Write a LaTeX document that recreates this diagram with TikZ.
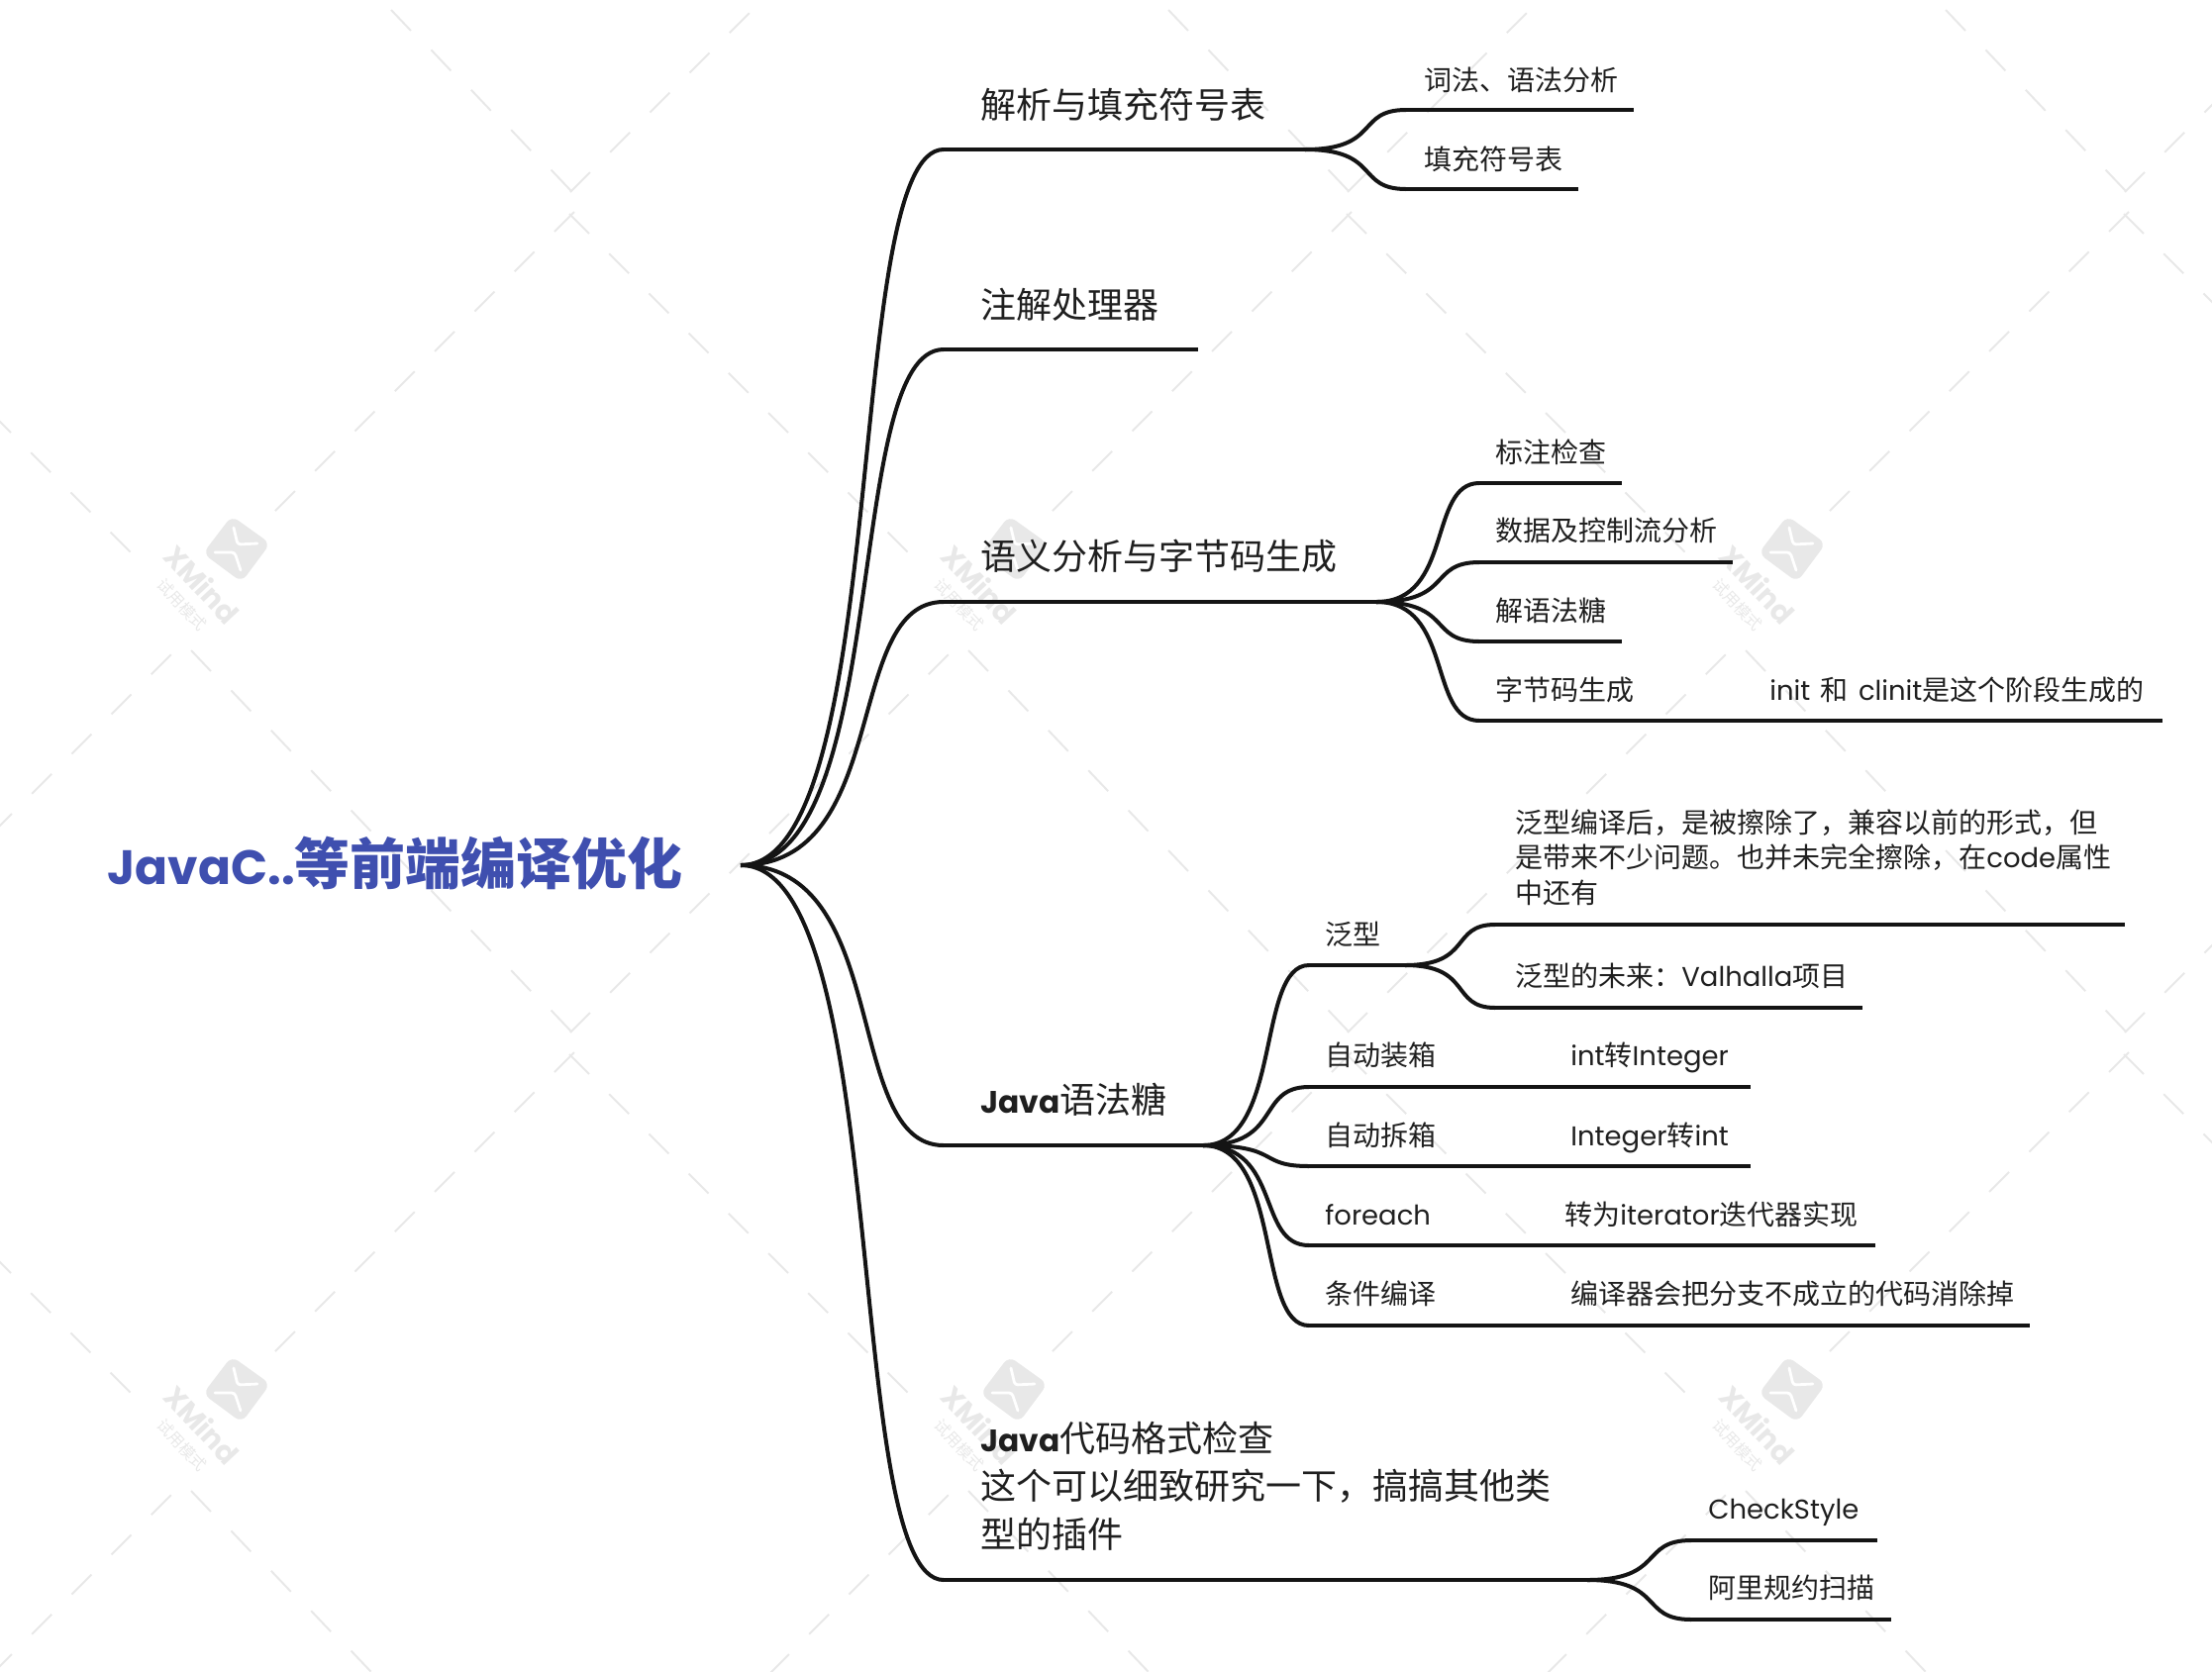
\documentclass[tikz,border=0pt]{standalone}
\usepackage{fontspec}
\usetikzlibrary{calc}
\setmainfont{Noto Sans CJK SC}
\newfontfamily\ltnfont[Scale=0.98]{Poppins}
\newfontfamily\ltnheavy[Scale=0.87]{Poppins}
\newfontfamily\wmfont{Poppins}
\newcommand{\ltn}[1]{{\ltnfont #1}}
\newcommand{\ltb}[1]{{\ltnheavy\bfseries #1}}
\definecolor{wmgray}{HTML}{E8E8E8}
\definecolor{inkline}{HTML}{141414}
\definecolor{inktext}{HTML}{1F1F1F}
\definecolor{rootblue}{HTML}{3F4FAF}
\tikzset{
  branch/.style={draw=inkline,line width=2pt,line cap=butt},
  rootlabel/.style={anchor=base west,inner sep=0pt,text=rootblue,font=\fontsize{28}{34}\selectfont\bfseries},
  mainlabel/.style={anchor=base west,inner sep=0pt,text=inktext,font=\fontsize{18}{24.2}\selectfont},
  mainblock/.style={anchor=west,align=left,inner sep=0pt,text=inktext,font=\fontsize{18}{24.2}\selectfont},
  sublabel/.style={anchor=base west,inner sep=0pt,text=inktext,font=\fontsize{14}{17.8}\selectfont},
  subblock/.style={anchor=west,align=left,inner sep=0pt,text=inktext,font=\fontsize{14}{17.8}\selectfont},
  wmdash/.style={draw=wmgray,line width=1pt},
}
\newcommand{\link}[2]{\draw[branch] let \p1=(#1),\p2=(#2) in (\p1) .. controls ({\x1+0.75*(\x2-\x1)},\y1) and ({\x1+0.5*(\x2-\x1)},\y2) .. (\p2);}
\begin{document}
\begin{tikzpicture}[x=0.5pt,y=-0.5pt]
\useasboundingbox (0,0) rectangle (2234,1688);
% watermark
\begin{scope}
\clip (0,0) rectangle (2234,1688);
\foreach \i in {-1,0,1,2,3}{
  \foreach \j in {-1,0,1,2}{
    \pgfmathsetmacro{\ox}{785*\i}
    \pgfmathsetmacro{\oy}{849*\j}
    \foreach \k in {0,...,7}{
      \draw[wmdash] ({\ox+580-40.3*\k},{\oy+214+40.3*\k}) -- ++(-20,20);}
    \foreach \k in {0,...,8}{
      \draw[wmdash] ({\ox+575+40.2*\k},{\oy+216+40.2*\k}) -- ++(20,20);}
    \foreach \k in {0,...,9}{
      \draw[wmdash] ({\ox+193+40.4*\k},{\oy-192+40.4*\k}) -- ++(20,21);}
    \foreach \k in {0,...,9}{
      \draw[wmdash] ({\ox+576+40.2*\k},{\oy+194-40.2*\k}) -- ++(20,-20);}
  }
}
\foreach \lx/\ly/\tag in {238/554/a,1023/554/b,1809/554/c,238/1403/d,1023/1403/e,1809/1403/f}{
  \begin{scope}[shift={(\lx,\ly)}]
    \fill[wmgray,rounded corners=4pt] (-4,-33) -- (35,-5) -- (6,34) -- (-33,5) -- cycle;
    \draw[white,line width=1.4pt,line cap=round,rounded corners=1.5pt] (-2,-21) -- (2,-4) -- (22,-5);
    \draw[white,line width=1.4pt,line cap=round,rounded corners=1.5pt] (-21,4) -- (-1,4) -- (5,22);
    \node[rotate=-47,text=wmgray,inner sep=0pt,font=\wmfont\bfseries\fontsize{14.5}{15}\selectfont] (wmname\tag) at (-34,36) {XMind};
    \node[rotate=-47,text=wmgray,inner sep=0pt,font=\fontsize{8}{8}\selectfont] (wmmode\tag) at (-54,57) {试用模式};
  \end{scope}
}
\end{scope}
% junction points
\coordinate (root) at (748,874);
\coordinate (a0) at (953,151);  \coordinate (a1) at (1318,151);
\coordinate (a1s) at (1420,111); \coordinate (a1e) at (1650,111);
\coordinate (a2s) at (1420,191); \coordinate (a2e) at (1594,191);
\coordinate (b0) at (953,353);  \coordinate (b1) at (1210,353);
\coordinate (c0) at (953,608);  \coordinate (c1) at (1390,608);
\coordinate (c1s) at (1494,488); \coordinate (c1e) at (1638,488);
\coordinate (c2s) at (1494,568); \coordinate (c2e) at (1750,568);
\coordinate (c3s) at (1494,648); \coordinate (c3e) at (1638,648);
\coordinate (c4s) at (1494,728); \coordinate (c4e) at (2184,728);
\coordinate (d0) at (953,1157); \coordinate (d1) at (1215,1157);
\coordinate (d1s) at (1322,975); \coordinate (d1f) at (1419,975);
\coordinate (d11s) at (1510,934); \coordinate (d11e) at (2146,934);
\coordinate (d12s) at (1510,1018); \coordinate (d12e) at (1881,1018);
\coordinate (d2s) at (1322,1098); \coordinate (d2e) at (1768,1098);
\coordinate (d3s) at (1322,1178); \coordinate (d3e) at (1768,1178);
\coordinate (d4s) at (1322,1258); \coordinate (d4e) at (1894,1258);
\coordinate (d5s) at (1322,1339); \coordinate (d5e) at (2050,1339);
\coordinate (e0) at (953,1596); \coordinate (e1) at (1603,1596);
\coordinate (e1s) at (1708,1556); \coordinate (e1e) at (1896,1556);
\coordinate (e2s) at (1708,1636); \coordinate (e2e) at (1910,1636);
% connectors
\link{root}{a0} \link{root}{b0} \link{root}{c0} \link{root}{d0} \link{root}{e0}
\draw[branch] (a0) -- (a1); \link{a1}{a1s} \link{a1}{a2s}
\draw[branch] (a1s) -- (a1e); \draw[branch] (a2s) -- (a2e);
\draw[branch] (b0) -- (b1);
\draw[branch] (c0) -- (c1);
\link{c1}{c1s} \draw[branch] (c1s) -- (c1e);
\link{c1}{c2s} \draw[branch] (c2s) -- (c2e);
\link{c1}{c3s} \draw[branch] (c3s) -- (c3e);
\link{c1}{c4s} \draw[branch] (c4s) -- (c4e);
\draw[branch] (d0) -- (d1);
\link{d1}{d1s} \draw[branch] (d1s) -- (d1f);
\link{d1f}{d11s} \link{d1f}{d12s}
\draw[branch] (d11s) -- (d11e); \draw[branch] (d12s) -- (d12e);
\link{d1}{d2s} \draw[branch] (d2s) -- (d2e);
\link{d1}{d3s} \draw[branch] (d3s) -- (d3e);
\link{d1}{d4s} \draw[branch] (d4s) -- (d4e);
\link{d1}{d5s} \draw[branch] (d5s) -- (d5e);
\draw[branch] (e0) -- (e1); \link{e1}{e1s} \link{e1}{e2s}
\draw[branch] (e1s) -- (e1e); \draw[branch] (e2s) -- (e2e);
% labels
\node[rootlabel] (rootn) at (108,893) {\ltb{JavaC..}等前端编译优化};
\node[mainlabel] (na) at (990,119) {解析与填充符号表};
\node[mainlabel] (nb) at (990,321) {注解处理器};
\node[mainlabel] (nc) at (990,575) {语义分析与字节码生成};
\node[mainlabel] (nd) at (990,1124) {\ltb{Java}语法糖};
\node[mainblock] (ne) at (990,1501) {\ltb{Java}代码格式检查\\这个可以细致研究一下，搞搞其他类\\型的插件};
\node[sublabel] (na1) at (1438,91) {词法、语法分析};
\node[sublabel] (na2) at (1438,171) {填充符号表};
\node[sublabel] (nc1) at (1510,467) {标注检查};
\node[sublabel] (nc2) at (1510,546) {数据及控制流分析};
\node[sublabel] (nc3) at (1510,627) {解语法糖};
\node[sublabel] (nc4) at (1510,707) {字节码生成};
\node[sublabel] (nc41) at (1787,707) {\ltn{init}\hspace{2pt} 和 \hspace{2pt}\ltn{clinit}是这个阶段生成的};
\node[sublabel] (nd1) at (1338,954) {泛型};
\node[subblock] (nd11) at (1530,866) {泛型编译后，是被擦除了，兼容以前的形式，但\\是带来不少问题。也并未完全擦除，在\ltn{code}属性\\中还有};
\node[sublabel] (nd12) at (1530,996) {泛型的未来：\ltn{Valhalla}项目};
\node[sublabel] (nd2) at (1338,1076) {自动装箱};
\node[sublabel] (nd21) at (1586,1076) {\ltn{int}转\ltn{Integer}};
\node[sublabel] (nd3) at (1338,1157) {自动拆箱};
\node[sublabel] (nd31) at (1586,1157) {\ltn{Integer}转\ltn{int}};
\node[sublabel] (nd4) at (1338,1237) {\ltn{foreach}};
\node[sublabel] (nd41) at (1580,1237) {转为\ltn{iterator}迭代器实现};
\node[sublabel] (nd5) at (1338,1317) {条件编译};
\node[sublabel] (nd51) at (1586,1317) {编译器会把分支不成立的代码消除掉};
\node[sublabel] (ne1) at (1725,1534) {\ltn{CheckStyle}};
\node[sublabel] (ne2) at (1725,1614) {阿里规约扫描};
\end{tikzpicture}
\end{document}
